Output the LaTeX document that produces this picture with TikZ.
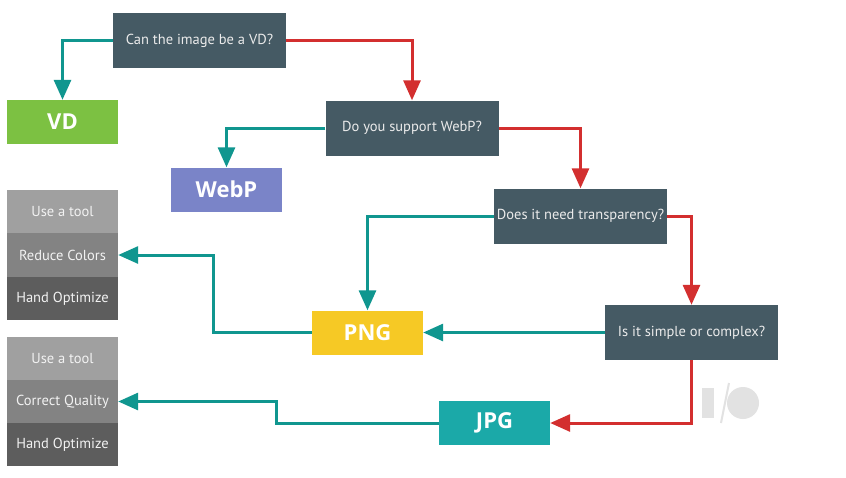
\documentclass[tikz,border=0pt]{standalone}
\usepackage{fontspec}
\setmainfont{PT Sans}
\newfontfamily\labelfont{Open Sans}
\usetikzlibrary{arrows.meta}
\definecolor{slate}{HTML}{455A64}
\definecolor{yesline}{HTML}{10968F}
\definecolor{noline}{HTML}{D32F2F}
\definecolor{vdgreen}{HTML}{7CC142}
\definecolor{webpblue}{HTML}{7A84C8}
\definecolor{pngyellow}{HTML}{F6C925}
\definecolor{jpgteal}{HTML}{1BA9A8}
\definecolor{toolgray}{HTML}{A0A0A0}
\definecolor{fixgray}{HTML}{838383}
\definecolor{handgray}{HTML}{5D5D5D}
\definecolor{logogray}{HTML}{E2E2E2}
\tikzset{
	question/.style={fill=slate, text=white!92!black, minimum width=173pt, minimum height=55pt, inner sep=0pt, font=\fontsize{14.5}{16}\selectfont},
	format/.style={fill=#1, text=white, minimum width=111pt, minimum height=44pt, inner sep=0pt, font=\labelfont\fontsize{22}{24}\selectfont\bfseries},
	stackrow/.style={fill=#1, text=white!95!black, minimum width=111pt, minimum height=43.3pt, inner sep=0pt, font=\fontsize{14.5}{16}\selectfont},
	yes/.style={draw=yesline, line width=3pt, -{Triangle[length=20pt,width=17pt]}},
	no/.style={draw=noline, line width=3pt, -{Triangle[length=20pt,width=17pt]}}
}
\begin{document}
\begin{tikzpicture}[x=1pt, y=-1pt]
		%%%%% START %%%%%
		\useasboundingbox[fill=white] (0, 0) rectangle (846, 477);
		
		\node[question] (q1) at (199.5, 40.5) {Can the image be a VD?};
		\node[question] (q2) at (412, 128) {Do you support WebP?};
		\node[question] (q3) at (580.5, 216) {Does it need transparency?};
		\node[question] (q4) at (691.5, 332.5) {Is it simple or complex?};
		
		\node[format=vdgreen] (vd) at (62.5, 122) {VD};
		\node[format=webpblue] (webp) at (226.5, 189.5) {WebP};
		\node[format=pngyellow] (png) at (367.5, 332.5) {PNG};
		\node[format=jpgteal] (jpg) at (494.5, 423) {JPG};
		
		\node[stackrow=toolgray] (tool1) at (62.5, 211.5) {Use a tool};
		\node[stackrow=fixgray] (reduce) at (62.5, 255) {Reduce Colors};
		\node[stackrow=handgray] (hand1) at (62.5, 298.5) {Hand Optimize};
		
		\node[stackrow=toolgray] (tool2) at (62.5, 358.5) {Use a tool};
		\node[stackrow=fixgray] (correct) at (62.5, 401.5) {Correct Quality};
		\node[stackrow=handgray] (hand2) at (62.5, 444.5) {Hand Optimize};
		
		\draw[yes] (q1.west) -| (vd.north);
		\draw[no] (q1.east) -| (q2.north);
		\draw[yes] (q2.west) -| (webp.north);
		\draw[no] (q2.east) -| (q3.north);
		\draw[yes] (q3.west) -| (png.north);
		\draw[no] (q3.east) -| (q4.north);
		\draw[yes] (q4.west) -- (png.east);
		\draw[no] (q4.south) |- (jpg.east);
		\draw[yes] (png.west) -- ++(-98, 0) |- (reduce.east);
		\draw[yes] (jpg.west) -- ++(-162, 0) |- (correct.east);
		
		\fill[logogray] (702, 388) rectangle (714, 418);
		\draw[logogray, line width=2pt] (721, 423) -- (729, 383);
		\fill[logogray] (743, 403) circle (16);
		%%%%% END %%%%%
\end{tikzpicture}
\end{document}
